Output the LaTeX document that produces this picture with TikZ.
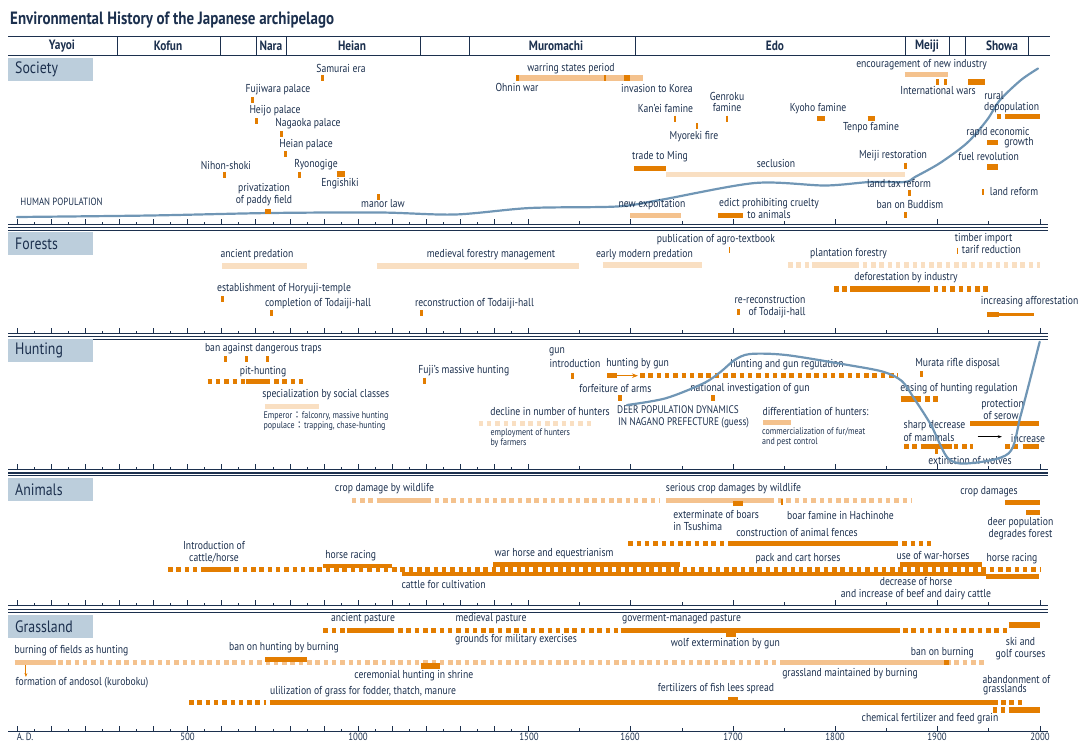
\documentclass[tikz,border=0pt]{standalone}
\usepackage{fontspec}
\setmainfont{PT Sans}[FakeStretch=0.84]
\newfontfamily\cjk{Noto Sans CJK JP}
\usetikzlibrary{arrows.meta}
\definecolor{navy}{RGB}{28,48,78}
\definecolor{caixa}{RGB}{188,206,220}
\definecolor{curva}{RGB}{112,150,181}
\definecolor{laranja}{RGB}{227,125,0}
\definecolor{laranjaC}{RGB}{244,194,142}
\definecolor{laranjaP}{RGB}{249,223,194}

\begin{document}
\begin{tikzpicture}[x=1pt,y=-1pt,>=Stealth,
  txt/.style={text=navy,inner sep=0pt,font=\fontsize{11.5}{11.5}\selectfont,align=center},
  miudo/.style={txt,font=\fontsize{9.5}{10}\selectfont,align=left,anchor=west},
  era/.style={txt,font=\bfseries\fontsize{13.5}{13.5}\selectfont},
  panel/.style={fill=caixa,text=navy,anchor=north west,minimum height=23pt,
    inner xsep=7pt,inner ysep=0pt,text width=71pt,align=left,font=\fontsize{16.5}{16.5}\selectfont},
  bar/.style={draw=laranja,line width=5.5pt},
  barC/.style={draw=laranjaC,line width=5.5pt},
  barP/.style={draw=laranjaP,line width=5.5pt},
  dbar/.style={bar,dash pattern=on 4.5pt off 3.8pt},
  dbarC/.style={barC,dash pattern=on 4.5pt off 3.8pt},
  dbarP/.style={barP,dash pattern=on 4.5pt off 3.8pt},
  mk/.style={draw=laranja,line width=3pt},
  eixo/.style={draw=navy,line width=0.8pt},
  pop/.style={draw=curva,line width=2.2pt,line join=round,line cap=round}]
  \useasboundingbox (0,0) rectangle (1078,742);

  % titulo e faixa das eras
  \node[anchor=west,text=navy,inner sep=0pt,font=\bfseries\fontsize{17.8}{17.8}\selectfont] (titulo) at (10,20)
    {Environmental History of the Japanese archipelago};
  \draw[navy,line width=1.2pt] (8,36.5) -- (1050,36.5) (8,55.7) -- (1050,55.7);
  \foreach \xd in {117,220,256,286,420,469,635,905,949,965,1028}
    \draw[navy,line width=1pt] (\xd,36.5) -- (\xd,55.7);
  \node[era] (yayoi) at (62,46) {Yayoi};
  \node[era] (kofun) at (168,46) {Kofun};
  \node[era] (nara) at (271,46) {Nara};
  \node[era] (heian) at (352,46) {Heian};
  \node[era] (muromachi) at (556,46) {Muromachi};
  \node[era] (edo) at (775,46) {Edo};
  \node[era] (meiji) at (927,46) {Meiji};
  \node[era] (showa) at (1002,46) {Showa};

  % eixos com marcas: um por painel
  \foreach \ya in {224.5,333.5,469.5,605.5,731.5}{
    \draw[eixo] (8,\ya) -- (1048,\ya);
    \foreach \k in {0,...,30}{
      \pgfmathsetmacro{\h}{ifthenelse(mod(\k,2)==0,6,2.5)}
      \draw[eixo] ({17.3+17.04*\k},\ya) -- ++(0,-\h);
    }
    \foreach \k in {1,...,10}{
      \pgfmathsetmacro{\h}{ifthenelse(mod(\k,2)==0,6,3.5)}
      \draw[eixo] ({528.5+51.15*\k},\ya) -- ++(0,-\h);
    }
  }
  \foreach \ys in {227.5,336.5,473,609.5}{
    \draw[navy,line width=1.2pt] (8,\ys) -- (1048,\ys);
    \draw[navy,line width=0.7pt] (8,\ys+2.6) -- (1048,\ys+2.6);
  }
  \foreach \ano/\xa in {500/187.5,1000/358,1500/529,1600/630,1700/733,1800/835,1900/937,2000/1040}
    \node[txt,font=\fontsize{10.5}{10.5}\selectfont] (ano\ano) at (\xa,737.3) {\ano};
  \node[txt,font=\fontsize{10.5}{10.5}\selectfont] (ad) at (25,737.3) {A.\,D.};

  % paineis
  \node[panel,minimum width=85pt] (society) at (8,58) {Society};
  \node[panel,minimum width=85pt] (forests) at (8,232) {Forests};
  \node[panel,minimum width=85pt] (hunting) at (8,339) {Hunting};
  \node[panel,minimum width=85pt] (animals) at (8,478) {Animals};
  \node[panel,minimum width=85pt] (grassland) at (8,615) {Grassland};

  % Society
  \draw[pop] plot[smooth,tension=0.5] coordinates {(17,217) (150,215.5) (270,213) (380,212.5)
    (455,214.5) (530,208) (617,206.5) (660,200) (755,183) (825,185.5) (870,182) (905,182)
    (915,177) (940,163) (967,143) (987,120) (1000,100) (1021,80) (1038,68.5)};
  \node[txt] (samurai) at (341,68.3) {Samurai era};
  \draw[mk] (322,75.3) -- (322,81.3);
  \node[txt] (warring) at (571,68.3) {warring states period};
  \draw[barC] (516,78) -- (643,78);
  \draw[mk] (517,75) -- (517,81);
  \draw[mk,line width=2pt] (604.5,75) -- (604.5,81);
  \draw[bar] (624,78) -- (629.5,78);
  \node[txt] (ohnin) at (517,87.3) {Ohnin war};
  \node[txt] (korea) at (657,88.3) {invasion to Korea};
  \node[txt] (fujiwara) at (278,89.3) {Fujiwara palace};
  \draw[mk] (252,97) -- (252,103);
  \node[txt] (heijo) at (275,110.7) {Heijo palace};
  \draw[mk] (256,118) -- (256,124);
  \node[txt] (nagaoka) at (308,124) {Nagaoka palace};
  \draw[mk] (281.4,131.3) -- (281.4,137.3);
  \node[txt] (heianp) at (306,144.3) {Heian palace};
  \draw[mk] (285.5,151.3) -- (285.5,157.3);
  \node[txt] (nihon) at (226,165) {Nihon-shoki};
  \draw[mk] (224.8,171.7) -- (224.8,177.7);
  \node[txt] (ryono) at (316,165) {Ryonogige};
  \draw[mk] (299.3,171.7) -- (299.3,177.7);
  \draw[bar] (336.5,174) -- (345,174);
  \node[txt] (engi) at (340,184) {Engishiki};
  \node[txt] (paddy) at (264,194.5) {privatization\\of paddy field};
  \draw[bar] (265,211.3) -- (271,211.3);
  \node[txt] (manor) at (383,204) {manor law};
  \draw[mk] (378.6,194) -- (378.6,200);
  \node[txt,font=\fontsize{10.5}{10.5}\selectfont] (humanpop) at (61.5,201.7) {HUMAN POPULATION};
  \node[txt] (kanei) at (665.5,108.7) {Kan’ei famine};
  \draw[mk,line width=1.5pt] (675,115.7) -- (675,121.7);
  \node[txt] (genroku) at (727,102.2) {Genroku\\famine};
  \draw[mk,line width=1.5pt] (727,115.7) -- (727,121.7);
  \node[txt] (myoreki) at (694,136.7) {Myoreki fire};
  \draw[mk,line width=1.5pt] (697,123) -- (697,129);
  \node[txt] (kyoho) at (818,109) {Kyoho famine};
  \draw[bar] (817,118.7) -- (825,118.7);
  \node[txt] (tenpo) at (871,128) {Tenpo famine};
  \draw[bar] (867.6,118.7) -- (875,118.7);
  \node[txt] (ming) at (660,156.7) {trade to Ming};
  \draw[bar] (634,168.3) -- (666,168.3);
  \node[txt] (seclusion) at (776,163.3) {seclusion};
  \draw[barP] (666,174.7) -- (905,174.7);
  \node[txt] (restoration) at (893,156) {Meiji restoration};
  \draw[mk] (905,162.7) -- (905,168.7);
  \node[txt] (landtax) at (899,184) {land tax reform};
  \draw[mk] (909.4,189.7) -- (909.4,195.7);
  \node[txt] (buddism) at (910,204.3) {ban on Buddism};
  \draw[mk] (905,212) -- (905,218);
  \node[txt] (expoit) at (652,204.7) {new expoitation};
  \draw[barC] (630.4,215.3) -- (681,215.3);
  \node[txt] (edict) at (769,208.7) {edict prohibiting cruelty\\to animals};
  \draw[bar] (718,215.3) -- (743,215.3);
  \node[txt] (industry) at (921.6,65) {encouragement of new industry};
  \draw[barC] (904.6,74.7) -- (948,74.7);
  \node[txt] (wars) at (938,90) {International wars};
  \draw[mk] (937,79) -- (937,85);
  \draw[mk] (945.6,79) -- (945.6,85);
  \draw[bar] (968,82) -- (984.5,82);
  \node[txt] (rural) at (994,95.3) {rural};
  \node[txt] (depop) at (1011.6,107.2) {depopulation};
  \draw[bar] (996.6,116.7) -- (1000.8,116.7);
  \draw[bar] (1004.5,116.7) -- (1040.4,116.7);
  \node[txt] (rapid) at (998,132.3) {rapid economic};
  \node[txt] (growth) at (1019,142.3) {growth};
  \draw[bar] (987,142.7) -- (998,142.7);
  \node[txt] (fuel) at (988.6,156.7) {fuel revolution};
  \draw[bar] (987,167) -- (998,167);
  \node[txt] (landref) at (1014,192) {land reform};
  \draw[mk,line width=2pt] (982.8,189) -- (982.8,195);

  % Forests
  \node[txt] (ancientp) at (257,255) {ancient predation};
  \draw[barP] (222.4,266) -- (307,266);
  \node[txt] (medieval) at (491,255) {medieval forestry management};
  \draw[barP] (376.6,266) -- (579.4,266);
  \node[txt] (horyuji) at (284,289) {establishment of Horyuji-temple};
  \draw[mk] (222.4,296) -- (222.4,302);
  \node[txt] (todaiji) at (318,303.3) {completion of Todaiji-hall};
  \draw[mk] (271,310) -- (271,316);
  \node[txt] (recons) at (474.5,303.3) {reconstruction of Todaiji-hall};
  \draw[mk] (421.4,310) -- (421.4,316);
  \node[txt] (earlymod) at (644.5,255) {early modern predation};
  \draw[barP] (602.5,265) -- (701.8,265);
  \node[txt] (agro) at (716,240) {publication of agro-textbook};
  \draw[mk,line width=1.5pt] (729.4,247) -- (729.4,253);
  \node[txt] (plantation) at (848.5,253.3) {plantation forestry};
  \draw[dbarP] (788,265) -- (1040,265);
  \draw[barP] (811.5,265) -- (858.7,265);
  \node[txt] (timber) at (983.6,238.3) {timber import};
  \node[txt] (tarif) at (991.4,249.3) {tarif reduction};
  \draw[mk,line width=1.5pt] (957.7,247.5) -- (957.7,253.5);
  \node[txt] (defor) at (906,277.7) {deforestation by industry};
  \draw[dbar] (834,289) -- (991.4,289);
  \draw[bar] (850,289) -- (926,289);
  \node[txt] (rerecons) at (770,306.7) {re-reconstruction\\\hspace*{14pt}of Todaiji-hall};
  \draw[mk] (738,309.3) -- (738,315.3);
  \node[txt] (affor) at (1029.6,301.7) {increasing afforestation};
  \draw[bar] (987,314.3) -- (999,314.3);
  \draw[bar,line width=2.5pt] (999,314.3) -- (1033.5,314.3);

  % Hunting
  \node[txt] (traps) at (263.4,348.3) {ban against dangerous traps};
  \foreach \xm in {225.2,246.9,267.6}
    \draw[mk] (\xm,356) -- (\xm,362);
  \node[txt] (pit) at (263,371.7) {pit-hunting};
  \draw[dbar] (207.6,381.7) -- (306.2,381.7);
  \draw[bar] (245.5,381.7) -- (268.3,381.7);
  \node[txt] (special) at (325.7,395) {specialization by social classes};
  \draw[barP] (264.8,406.7) -- (319,406.7);
  \node[miudo] (emperor) at (263.4,421)
    {Emperor{\cjk ：}falconry, massive hunting\\populace{\cjk ：}trapping, chase-hunting};
  \node[txt] (fuji) at (463.8,371) {Fuji’s massive hunting};
  \draw[mk] (424,377.7) -- (424,383.7);
  \node[txt] (decline) at (550,411.7) {decline in number of hunters};
  \draw[dbarP] (478.6,423.3) -- (593,423.3);
  \node[miudo] (employ) at (490.3,437.8) {employment of hunters\\by farmers};
  \node[txt,anchor=west] (gun) at (549,351.7) {gun};
  \node[txt] (intro) at (575,363.3) {introduction};
  \draw[mk] (572.5,372.7) -- (572.5,378.7);
  \node[txt] (bygun) at (637.7,363.3) {hunting by gun};
  \draw[bar] (607,375.7) -- (616.6,375.7);
  \coordinate (setaA) at (616,375.7);
  \coordinate (setaB) at (638,375.7);
  \draw[laranja,line width=1.3pt,-{Stealth[length=6pt]}] (setaA) -- (setaB);
  \draw[dbar] (640,375.7) -- (898,375.7);
  \node[txt] (forfeit) at (615.4,388.3) {forfeiture of arms};
  \draw[mk,line width=4pt] (620,395) -- (620,401);
  \node[txt] (regul) at (787,364.3) {hunting and gun regulation};
  \node[txt] (invest) at (750,388.3) {national investigation of gun};
  \draw[mk,line width=4pt] (712.5,395) -- (712.5,401);
  \node[txt,anchor=west,align=left,font=\fontsize{11}{12}\selectfont] (deer) at (617,417.2)
    {DEER POPULATION DYNAMICS\\\hspace*{1pt}IN NAGANO PREFECTURE (guess)};
  \node[txt] (diff) at (815.5,411) {differentiation of hunters:};
  \draw[barC] (763,422.3) -- (790.8,422.3);
  \node[miudo] (commerc) at (762,436.7) {commercialization of fur/meat\\and pest control};
  \node[txt] (murata) at (957.5,363.3) {Murata rifle disposal};
  \draw[mk] (921.8,371) -- (921.8,377);
  \node[txt] (easing) at (959,389) {easing of hunting regulation};
  \draw[bar] (900.7,399) -- (921.4,399);
  \draw[dbar] (925,399) -- (940,399);
  \node[txt] (protect) at (1002.6,404.3) {protection};
  \node[txt] (serow) at (1001,416) {of serow};
  \draw[bar] (970,423.3) -- (1039,423.3);
  \node[txt] (sharp) at (934.5,426) {sharp decrease};
  \node[txt] (mammals) at (929,437.7) {of mammals};
  \draw[dbar] (904,446.7) -- (972.5,446.7);
  \draw[bar] (921.8,446.7) -- (951.8,446.7);
  \draw[mk] (936.3,449) -- (936.3,454);
  \coordinate (setaC) at (977.7,436.7);
  \coordinate (setaD) at (1001.8,436.7);
  \draw[black,line width=0.8pt,-{Stealth[length=4pt]}] (setaC) -- (setaD);
  \node[txt] (increase) at (1028,438.3) {increase};
  \draw[dbar] (1005,446.7) -- (1020,446.7);
  \draw[bar] (1022.5,446.7) -- (1039,446.7);
  \node[txt] (wolves) at (970,460) {extinction of wolves};
  \draw[pop] plot[smooth,tension=0.5] coordinates {(627,405) (665.6,398.3) (703.5,383.3)
    (720.8,371.7) (734.6,360) (750,354) (786,355) (848,365) (883,371.7) (901.8,381)
    (914,398.3) (931,425) (948,458.3) (969,463.3) (1008.7,453.3) (1020.8,415) (1039.7,341.7)};

  % Animals
  \node[txt] (cropdmg) at (384.5,489) {crop damage by wildlife};
  \draw[dbarC] (351.7,500.7) -- (660.4,500.7);
  \draw[barC] (376.6,500.7) -- (428.3,500.7);
  \node[txt] (serious) at (733.5,489) {serious crop damages by wildlife};
  \draw[barC] (665.6,500.7) -- (774,500.7);
  \draw[dbarC] (778,500.7) -- (911,500.7);
  \draw[bar] (732.8,503.5) -- (743,503.5);
  \draw[mk,line width=2pt] (782,499) -- (782,505);
  \node[txt,anchor=west,align=left] (boars) at (673.2,520.5) {exterminate of boars\\in Tsushima};
  \node[txt] (hachinohe) at (840.5,515) {boar famine in Hachinohe};
  \node[txt] (fences) at (797,532.7) {construction of animal fences};
  \draw[dbar] (628.3,543.3) -- (931,543.3);
  \draw[bar] (729.4,543.3) -- (896.6,543.3);
  \node[txt] (cropdmg2) at (989,491.7) {crop damages};
  \draw[bar] (1005,502.3) -- (1040.4,502.3);
  \draw[bar] (1026,512.7) -- (1040.4,512.7);
  \node[txt] (degrade) at (1020.5,528.5) {deer population\\degrades forest};
  \node[txt] (cattleh) at (214,552.2) {Introduction of\\cattle/horse};
  \draw[dbar,line width=5pt] (168,569) -- (1040,569);
  \draw[bar,line width=5pt] (205.5,569) -- (227.6,569);
  \node[txt] (racing) at (350.7,556) {horse racing};
  \draw[bar,line width=4pt] (323.4,565.5) -- (392.4,565.5);
  \node[txt] (cultiv) at (443.6,584) {cattle for cultivation};
  \draw[bar,line width=4.5pt] (401.7,573.8) -- (986,573.8);
  \node[txt] (warhorse) at (554,554) {war horse and equestrianism};
  \draw[bar,line width=5pt] (493,564) -- (680.4,564);
  \node[txt] (pack) at (798,559) {pack and cart horses};
  \node[txt] (usewar) at (933,555) {use of war-horses};
  \draw[bar,line width=5pt] (900,564) -- (982,564);
  \node[txt] (racing2) at (1012,558.3) {horse racing};
  \draw[bar,line width=5pt] (986,576) -- (1038.7,576);
  \node[txt] (decrease) at (916,588.8) {decrease of horse\\and increase of beef and dairy cattle};

  % Grassland
  \node[txt] (ancpast) at (363,619) {ancient pasture};
  \draw[dbar] (323.4,630.7) -- (620.8,630.7);
  \draw[bar] (346.6,630.7) -- (391.4,630.7);
  \node[txt] (medpast) at (491,619) {medieval pasture};
  \node[txt] (military) at (516,640) {grounds for military exercises};
  \node[txt] (govpast) at (681.5,619) {goverment-managed pasture};
  \draw[bar] (620.8,630.7) -- (900,630.7);
  \draw[dbar] (903,630.7) -- (1008.7,630.7);
  \draw[bar] (726,634) -- (736,634);
  \draw[bar] (1008.7,625) -- (1040.4,625);
  \node[txt] (wolfext) at (725.4,643.3) {wolf extermination by gun};
  \node[txt] (ski) at (1020.5,648.8) {ski and\\golf courses};
  \draw[barC] (14.5,662.7) -- (55.9,662.7);
  \draw[dbarC] (58,662.7) -- (986.3,662.7);
  \node[txt] (burnfield) at (71.5,651) {burning of fields as hunting};
  \coordinate (setaE) at (25.9,665);
  \coordinate (setaF) at (25.9,677);
  \draw[laranja,line width=0.9pt,-{Stealth[length=4pt]}] (setaE) -- (setaF);
  \node[txt] (andosol) at (82,682.3) {formation of andosol (kuroboku)};
  \node[txt] (banhunt) at (284,647.7) {ban on hunting by burning};
  \draw[bar] (264.8,659.5) -- (307,659.5);
  \node[txt] (shrine) at (413.8,675.7) {ceremonial hunting in shrine};
  \draw[bar] (420.7,666) -- (440.3,666);
  \node[txt] (maint) at (850,674) {grassland maintained by burning};
  \draw[barC] (782.8,662.7) -- (946.6,662.7);
  \node[txt] (banburn) at (942.4,652.3) {ban on burning};
  \draw[bar] (944,662.7) -- (949,662.7);
  \node[txt] (fodder) at (363,691.7) {ulilization of grass for fodder, thatch, manure};
  \draw[dbar] (189,702.3) -- (265.5,702.3);
  \draw[bar] (269.7,702.3) -- (998.3,702.3);
  \draw[dbar] (1001,702.3) -- (1021.8,702.3);
  \node[txt] (fishlees) at (716,689) {fertilizers of fish lees spread};
  \draw[bar] (728,700) -- (738,700);
  \node[txt] (abandon) at (1016.4,679) {abandonment of};
  \node[txt] (grassl) at (1005,690) {grasslands};
  \draw[dbar] (992.5,710) -- (1007,710);
  \draw[bar] (1008.7,710) -- (1039.7,710);
  \node[txt] (chemical) at (930,718.3) {chemical fertilizer and feed grain};
\end{tikzpicture}
\end{document}
